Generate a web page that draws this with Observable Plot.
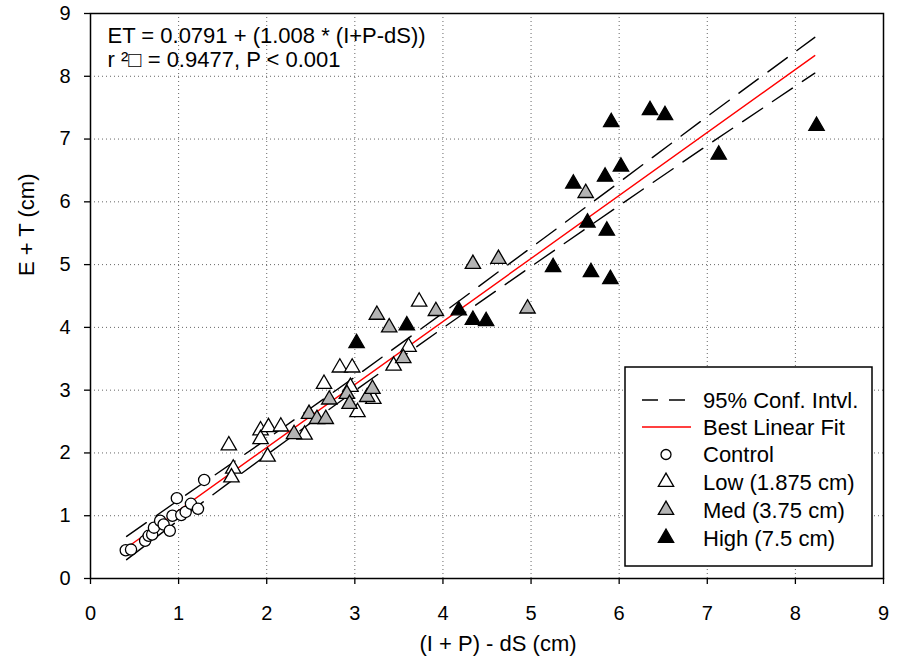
<!DOCTYPE html>
<html>
<head>
<meta charset="utf-8">
<script src="https://cdn.jsdelivr.net/npm/d3@7"></script>
<script src="https://cdn.jsdelivr.net/npm/@observablehq/plot@0.6"></script>
<style>
  body { margin: 0; background: #fff; }
  #chart svg { display: block; }
</style>
</head>
<body>
<div id="chart"></div>
<script>
// ---- data ----
const xTicks = [0, 1, 2, 3, 4, 5, 6, 7, 8, 9];
const yTicks = [0, 1, 2, 3, 4, 5, 6, 7, 8, 9];
const gridTicks = [1, 2, 3, 4, 5, 6, 7, 8];

const controlX = [0.40, 0.46, 0.62, 0.66, 0.70, 0.72, 0.79, 0.83, 0.90, 0.93, 0.98, 1.03, 1.08, 1.14, 1.22, 1.29];
const controlY = [0.45, 0.46, 0.60, 0.68, 0.70, 0.81, 0.92, 0.86, 0.76, 1.00, 1.28, 1.01, 1.06, 1.19, 1.11, 1.57];

const lowX = [1.57, 1.62, 1.60, 1.93, 1.93, 2.02, 2.16, 2.01, 2.43, 2.65, 2.83, 2.97, 2.95, 3.03, 3.21, 3.44, 3.61, 3.73];
const lowY = [2.12, 1.75, 1.61, 2.36, 2.22, 2.41, 2.42, 1.94, 2.29, 3.10, 3.36, 3.36, 3.05, 2.65, 2.86, 3.39, 3.69, 4.41];

const medX = [2.31, 2.48, 2.57, 2.67, 2.71, 2.91, 2.94, 3.14, 3.20, 3.25, 3.39, 3.55, 3.92, 4.34, 4.63, 4.96, 5.62];
const medY = [2.30, 2.62, 2.54, 2.54, 2.85, 2.94, 2.78, 2.89, 3.02, 4.20, 4.00, 3.51, 4.26, 5.01, 5.09, 4.30, 6.14];

const highX = [3.02, 3.59, 4.18, 4.34, 4.49, 5.25, 5.68, 5.90, 5.48, 5.84, 6.02, 5.64, 5.86, 5.91, 6.35, 6.52, 7.13, 8.24];
const highY = [3.75, 4.03, 4.27, 4.12, 4.10, 4.96, 4.88, 4.77, 6.29, 6.40, 6.56, 5.67, 5.54, 7.27, 7.46, 7.38, 6.75, 7.21];

const fitX = [0.41, 8.22];
const fitY = [0.49, 8.33];

const ciX     = [0.41, 1.00, 2.00, 3.00, 4.00, 5.00, 6.00, 7.00, 8.22];
const ciUpper = [0.67, 1.25, 2.22, 3.21, 4.23, 5.27, 6.31, 7.36, 8.62];
const ciLower = [0.30, 0.93, 1.97, 2.99, 3.99, 4.97, 5.94, 6.90, 8.05];

const annotationLines = ["ET = 0.0791 + (1.008 * (I+P-dS))", "r \u00B2\u25A1 = 0.9477, P < 0.001"];
const xLabel = "(I + P) - dS (cm)";
const yLabel = "E + T (cm)";
const legendLabels = ["95% Conf. Intvl.", "Best Linear Fit", "Control", "Low (1.875 cm)", "Med (3.75 cm)", "High (7.5 cm)"];

// ---- build tables ----
const toRows = (xs, ys) => xs.map((x, i) => ({x, y: ys[i]}));
const control = toRows(controlX, controlY);
const low = toRows(lowX, lowY);
const med = toRows(medX, medY);
const high = toRows(highX, highY);
const fit = toRows(fitX, fitY);
const upper = toRows(ciX, ciUpper);
const lower = toRows(ciX, ciLower);

const FONT = '"Liberation Sans", Arial, Helvetica, sans-serif';
const TRI_R = 5.7;
const CIRC_R = 5.6;

const chart = Plot.plot({
  width: 898,
  height: 661,
  marginLeft: 90,
  marginRight: 15,
  marginTop: 13,
  marginBottom: 83,
  x: {domain: [0, 9]},
  y: {domain: [0, 9]},
  style: {fontFamily: FONT, fontSize: "20px", color: "#000", background: "#fff"},
  marks: [
    Plot.gridX(gridTicks, {stroke: "#666", strokeOpacity: 1, strokeWidth: 1, strokeDasharray: "1,3"}),
    Plot.gridY(gridTicks, {stroke: "#666", strokeOpacity: 1, strokeWidth: 1, strokeDasharray: "1,3"}),
    Plot.axisX(xTicks, {tickSize: 6, tickPadding: 21, fontSize: 20, label: null, strokeWidth: 1.3, tickFormat: d3.format("d")}),
    Plot.axisY(yTicks, {tickSize: 6, tickPadding: 14, fontSize: 20, label: null, strokeWidth: 1.3, tickFormat: d3.format("d")}),
    Plot.line(upper, {x: "x", y: "y", stroke: "#000", strokeWidth: 1.4, strokeDasharray: "24,12"}),
    Plot.line(lower, {x: "x", y: "y", stroke: "#000", strokeWidth: 1.4, strokeDasharray: "24,12"}),
    Plot.line(fit, {x: "x", y: "y", stroke: "#ff0000", strokeWidth: 1.4}),
    Plot.dot(control, {x: "x", y: "y", r: CIRC_R, symbol: "circle", fill: "#fff", stroke: "#000", strokeWidth: 1.3}),
    Plot.dot(low, {x: "x", y: "y", r: TRI_R, symbol: "triangle", fill: "#fff", stroke: "#000", strokeWidth: 1.3}),
    Plot.dot(med, {x: "x", y: "y", r: TRI_R, symbol: "triangle", fill: "#b4b4b4", stroke: "#000", strokeWidth: 1.3}),
    Plot.dot(high, {x: "x", y: "y", r: TRI_R, symbol: "triangle", fill: "#000", stroke: "#000", strokeWidth: 1.3}),
    Plot.frame({stroke: "#000", strokeWidth: 1.5}),
    Plot.text([annotationLines.join("\n")], {frameAnchor: "top-left", textAnchor: "start", lineAnchor: "top", dx: 17, dy: 12, fontSize: 22, lineHeight: 1.1, fill: "#000"}),
    Plot.text([xLabel], {frameAnchor: "bottom", lineAnchor: "middle", dx: 11, dy: 65, fontSize: 22, fill: "#000"}),
    Plot.text([yLabel], {frameAnchor: "left", lineAnchor: "middle", rotate: -90, dx: -64, dy: -20, fontSize: 22, fill: "#000"})
  ]
});

// ---- legend (drawn into the Plot SVG) ----
const svg = d3.select(chart);
const lg = svg.append("g").attr("font-family", FONT).attr("font-size", 22).attr("text-anchor", "start");
lg.append("rect").attr("x", 625).attr("y", 367).attr("width", 247).attr("height", 199)
  .attr("fill", "#fff").attr("stroke", "#000").attr("stroke-width", 1.5);
const rowsY = [400, 427, 454.5, 482, 510, 538];
const symX = 666;
// dashed sample
lg.append("line").attr("x1", 642).attr("x2", 689).attr("y1", rowsY[0]).attr("y2", rowsY[0])
  .attr("stroke", "#000").attr("stroke-width", 1.4).attr("stroke-dasharray", "16,11");
// red sample
lg.append("line").attr("x1", 642).attr("x2", 691).attr("y1", rowsY[1]).attr("y2", rowsY[1])
  .attr("stroke", "#ff0000").attr("stroke-width", 1.4);
// symbols
lg.append("circle").attr("cx", symX).attr("cy", rowsY[2]).attr("r", 5)
  .attr("fill", "#fff").attr("stroke", "#000").attr("stroke-width", 1.3);
const tri = d3.symbol().type(d3.symbolTriangle).size(TRI_R * TRI_R * Math.PI)();
[["#fff", 3], ["#b4b4b4", 4], ["#000", 5]].forEach(([f, i]) => {
  lg.append("path").attr("d", tri).attr("transform", `translate(${symX},${rowsY[i]})`)
    .attr("fill", f).attr("stroke", "#000").attr("stroke-width", 1.3);
});
legendLabels.forEach((t, i) => {
  lg.append("text").attr("x", 703).attr("y", rowsY[i]).attr("dy", "0.35em")
    .attr("text-anchor", "start").attr("fill", "#000").text(t);
});

document.getElementById("chart").appendChild(chart);
</script>
</body>
</html>
